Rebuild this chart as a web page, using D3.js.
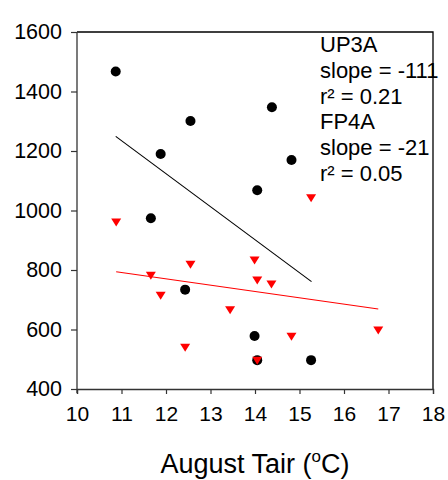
<!DOCTYPE html>
<html>
<head>
<meta charset="utf-8">
<script src="https://cdn.jsdelivr.net/npm/d3@7"></script>
<style>
body { margin: 0; background: #fff; }
text { font-family: "Liberation Sans", Arial, sans-serif; }
</style>
</head>
<body>
<svg id="chart" width="448" height="480"></svg>
<script>
// UP3A (black circles)
const up3aX = [10.87, 11.88, 12.55, 14.05, 14.38, 14.82, 11.66, 12.43, 13.99, 14.05, 15.26];
const up3aY = [1467, 1190, 1301, 1068, 1347, 1170, 974, 734, 578, 497, 497];
// FP4A (red triangles)
const fp4aX = [10.88, 11.66, 11.88, 12.55, 12.43, 13.44, 13.99, 14.05, 14.05, 14.37, 14.82, 15.26, 16.77];
const fp4aY = [961, 782, 715, 819, 540, 666, 834, 766, 497, 753, 577, 1043, 598];
// fitted regression lines (endpoints)
const up3aFitX = [10.87, 15.27];
const up3aFitY = [1249, 761];
const fp4aFitX = [10.88, 16.77];
const fp4aFitY = [794, 669];
// ticks
const xTicks = [10, 11, 12, 13, 14, 15, 16, 17, 18];
const yTicks = [400, 600, 800, 1000, 1200, 1400, 1600];
const annotations = ["UP3A", "slope = -111", "r² = 0.21", "FP4A", "slope = -21", "r² = 0.05"];

const svg = d3.select("#chart");
const mLeft = 77, mRight = 433, mTop = 32, mBottom = 389;
const x = d3.scaleLinear().domain([10, 18]).range([mLeft, mRight]);
const y = d3.scaleLinear().domain([400, 1600]).range([mBottom, mTop]);

// frame (top and right)
svg.append("path")
  .attr("d", `M${mLeft},${mTop}H${mRight}V${mBottom}`)
  .attr("fill", "none").attr("stroke", "#000").attr("stroke-width", 1.3);

const xAxis = svg.append("g").attr("transform", `translate(0,${mBottom})`)
  .call(d3.axisBottom(x).tickValues(xTicks).tickSize(5).tickPadding(12).tickFormat(d3.format("d")));
const yAxis = svg.append("g").attr("transform", `translate(${mLeft},0)`)
  .call(d3.axisLeft(y).tickValues(yTicks).tickSize(6).tickPadding(9).tickFormat(d3.format("d")));
[xAxis, yAxis].forEach(a => {
  a.select(".domain").attr("stroke", "#333").attr("stroke-width", 1.3);
  a.selectAll(".tick line").attr("stroke", "#333").attr("stroke-width", 1.2);
  a.selectAll("text").attr("font-family", "Liberation Sans, Arial, sans-serif")
    .attr("font-size", 21).attr("fill", "#000");
});
yAxis.selectAll("text").attr("font-size", 21.5);
yAxis.select(".domain").attr("d", `M0,${mBottom + 4}V${mTop}`);

// regression lines
const line = d3.line().x(d => x(d[0])).y(d => y(d[1]));
svg.append("path").datum(d3.zip(up3aFitX, up3aFitY)).attr("d", line)
  .attr("stroke", "#000").attr("stroke-width", 1.1).attr("fill", "none");
svg.append("path").datum(d3.zip(fp4aFitX, fp4aFitY)).attr("d", line)
  .attr("stroke", "#ff0000").attr("stroke-width", 1.1).attr("fill", "none");

// points
svg.append("g").selectAll("circle").data(d3.zip(up3aX, up3aY)).join("circle")
  .attr("cx", d => x(d[0])).attr("cy", d => y(d[1])).attr("r", 5).attr("fill", "#000");
svg.append("g").selectAll("path").data(d3.zip(fp4aX, fp4aY)).join("path")
  .attr("transform", d => `translate(${x(d[0])},${y(d[1])})`)
  .attr("d", "M-5,-3.5L5,-3.5L0,4.5Z").attr("fill", "#ff0000");

// annotations
svg.append("g").selectAll("text").data(annotations).join("text")
  .attr("x", 320).attr("y", (d, i) => 52.3 + i * 25.7)
  .attr("font-size", 22).attr("fill", "#000").text(d => d);

// x axis title
const t = svg.append("text").attr("x", (mLeft + mRight) / 2).attr("y", 473)
  .attr("text-anchor", "middle").attr("font-size", 27).attr("fill", "#000");
t.append("tspan").text("August Tair (");
t.append("tspan").attr("font-size", 17).attr("dy", -11).text("o");
t.append("tspan").attr("dy", 11).text("C)");
</script>
</body>
</html>
